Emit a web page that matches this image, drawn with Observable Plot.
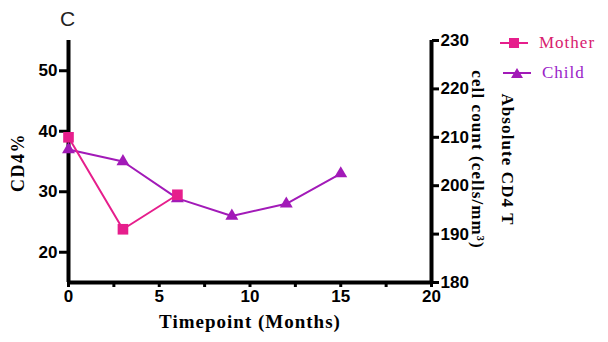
<!DOCTYPE html>
<html>
<head>
<meta charset="utf-8">
<script src="https://cdn.jsdelivr.net/npm/d3@7"></script>
<script src="https://cdn.jsdelivr.net/npm/@observablehq/plot@0.6"></script>
<style>
  html, body { margin: 0; padding: 0; background: #fff; }
  #wrap { position: relative; width: 608px; height: 342px; overflow: hidden; }
  #panel { position: absolute; left: 60px; top: 7px; font: 21px "Liberation Sans", Arial, sans-serif; color: #222; }
  .leg { position: absolute; display: flex; align-items: center; font-family: "Liberation Serif", "Times New Roman", serif; font-size: 17px; letter-spacing: 1px; }
  .leg svg { margin-right: 11px; }
</style>
</head>
<body>
<div id="wrap"><div id="panel">C</div></div>
<script>
// ---- data ----
const motherMonths = [0, 3, 6];
const motherCD4 = [39, 23.8, 29.5];
const childMonths = [0, 3, 6, 9, 12, 15];
const childCD4 = [37, 35, 28.9, 26, 28, 33];
const xTicks = [0, 5, 10, 15, 20];
const xMinorTicks = [2.5, 7.5, 12.5, 17.5];
const leftTicks = [20, 30, 40, 50];
const rightTicks = [180, 190, 200, 210, 220, 230];
const leftDomain = [15, 55];
const rightDomain = [180, 230];
const seriesNames = ["Mother", "Child"];
const seriesColors = ["#E61E8C", "#A21AB8"];
const legendTextColors = ["#D8206E", "#9A22C8"];

const mother = motherMonths.map((m, i) => ({month: m, value: motherCD4[i]}));
const child = childMonths.map((m, i) => ({month: m, value: childCD4[i]}));

// map right-axis values onto the left scale
const toLeft = r => leftDomain[0] + (r - rightDomain[0]) * (leftDomain[1] - leftDomain[0]) / (rightDomain[1] - rightDomain[0]);
const fromLeft = l => rightDomain[0] + (l - leftDomain[0]) * (rightDomain[1] - rightDomain[0]) / (leftDomain[1] - leftDomain[0]);

const serif = "'Liberation Serif', 'Times New Roman', serif";

const chart = Plot.plot({
  width: 608,
  height: 342,
  marginLeft: 68,
  marginRight: 177,
  marginTop: 40,
  marginBottom: 60,
  x: {domain: [0, 20]},
  y: {domain: leftDomain},
  style: {fontFamily: "'Liberation Sans', Arial, sans-serif", fontWeight: "bold", fontSize: "17px", color: "#000", background: "#fff"},
  marks: [
    Plot.axisY({ticks: leftTicks, tickSize: 9, tickPadding: 2, strokeWidth: 3, label: null}),
    Plot.axisY({anchor: "right", ticks: rightTicks.map(toLeft), tickFormat: v => String(Math.round(fromLeft(v))), tickSize: 7, tickPadding: 2, strokeWidth: 3, label: null}),
    Plot.axisX({ticks: xTicks, tickSize: 5, tickPadding: 2, strokeWidth: 3, label: null}),
    Plot.axisX({ticks: xMinorTicks, tickFormat: () => "", tickSize: 5, strokeWidth: 3, label: null}),
    Plot.ruleX([0, 20], {y1: leftDomain[0], y2: leftDomain[1], strokeWidth: 4}),
    Plot.ruleY([leftDomain[0]], {x1: 0, x2: 20, strokeWidth: 4}),
    Plot.line(child, {x: "month", y: "value", stroke: seriesColors[1], strokeWidth: 2}),
    Plot.dot(child, {x: "month", y: "value", symbol: "triangle", r: 4.8, fill: seriesColors[1], stroke: "none"}),
    Plot.line(mother, {x: "month", y: "value", stroke: seriesColors[0], strokeWidth: 2}),
    Plot.dot(mother, {x: "month", y: "value", symbol: "square", r: 6, fill: seriesColors[0], stroke: "none"}),
    Plot.text(["CD4%"], {frameAnchor: "left", dx: -50, dy: 1, rotate: -90, textAnchor: "middle", lineAnchor: "middle", fontFamily: serif, fontSize: 18, fontWeight: "bold"}),
    Plot.text(["Absolute CD4 T\ncell count (cells/mm³)"], {frameAnchor: "right", dx: 65, dy: -2, rotate: 90, textAnchor: "middle", lineAnchor: "middle", lineHeight: 1.75, fontFamily: serif, fontSize: 17, fontWeight: "bold"}),
    Plot.text(["Timepoint (Months)"], {frameAnchor: "bottom", dy: 45, textAnchor: "middle", fontFamily: serif, fontSize: 19, fontWeight: "bold"})
  ]
});

// letter spacing on the serif titles, as in the reference
chart.querySelectorAll("text").forEach(t => {
  const s = t.textContent;
  if (s.includes("Timepoint")) t.style.letterSpacing = "1px";
  else if (s.includes("CD4%")) t.style.letterSpacing = "1.5px";
  else if (s.includes("Absolute")) t.style.letterSpacing = "1.1px";
});

const wrap = document.getElementById("wrap");
wrap.insertBefore(chart, wrap.firstChild);

// legend
const legendPos = [{left: 500, top: 33}, {left: 503, top: 63}];
seriesNames.forEach((name, i) => {
  const d = document.createElement("div");
  d.className = "leg";
  d.style.left = legendPos[i].left + "px";
  d.style.top = legendPos[i].top + "px";
  d.style.color = legendTextColors[i];
  const sym = i === 0
    ? `<rect x="9" y="2" width="10" height="10" fill="${seriesColors[i]}"/>`
    : `<path d="M14,2 L20,12 L8,12 Z" fill="${seriesColors[i]}"/>`;
  d.innerHTML = `<svg width="28" height="14"><line x1="0" x2="28" y1="7" y2="7" stroke="${seriesColors[i]}" stroke-width="2"/>${sym}</svg><span>${name}</span>`;
  wrap.appendChild(d);
});
</script>
</body>
</html>
